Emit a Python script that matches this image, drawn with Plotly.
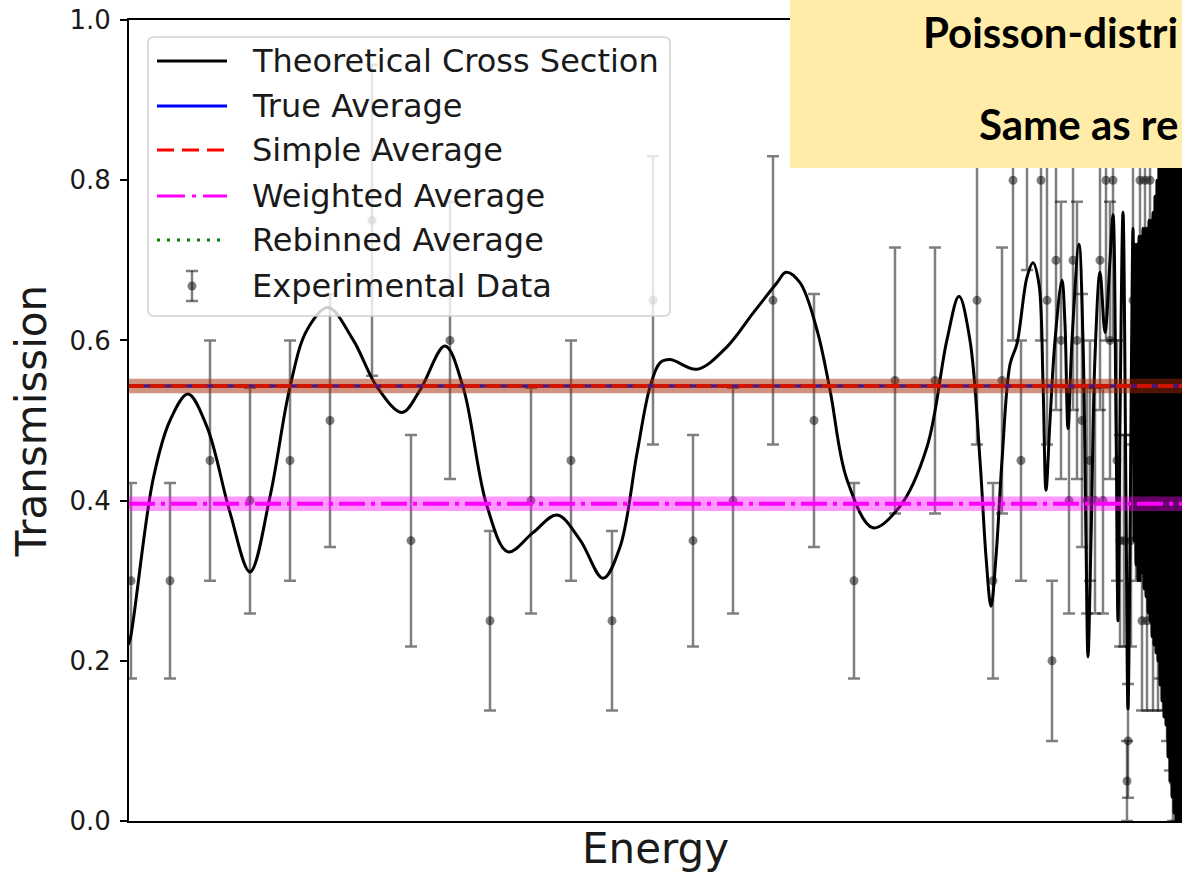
import plotly.graph_objects as go

# ---- experimental transmission (counts out of 20 trials) ----
energy_exp = [0.2, 4.1, 8.1, 12.1, 16.1, 20.1, 24.3, 28.2, 32.1, 36.1, 40.2,
              44.2, 48.3, 52.4, 56.4, 60.4, 64.4, 68.5, 72.5, 76.6, 80.6, 84.8,
              86.4, 87.3, 88.4, 89.2, 89.8, 91.2, 91.8, 92.3, 92.7, 93.2,
              94.0, 94.4, 94.8, 95.3, 95.8, 96.1, 96.6, 97.1, 97.4, 97.7,
              98.1, 98.4, 98.8, 99.1, 99.5, 99.8, 99.9, 100.2, 100.4, 100.7,
              101.1, 101.3, 101.6, 101.8, 102.1, 102.4, 102.6, 102.9, 103.1, 103.4,
              103.7, 103.8, 104.1, 104.4, 104.7, 105.1]
trans_exp = [0.30, 0.30, 0.45, 0.40, 0.45, 0.50, 0.75, 0.35, 0.60, 0.25, 0.40,
             0.45, 0.25, 0.65, 0.35, 0.40, 0.65, 0.50, 0.30, 0.55, 0.55, 0.65,
             0.30, 0.55, 0.80, 0.45, 0.90, 0.80, 0.65, 0.20, 0.70, 0.60,
             0.40, 0.70, 0.60, 0.50, 0.40, 0.45, 0.40, 0.70, 0.40, 0.80,
             0.60, 0.80, 0.45, 0.35, 0.35, 0.05, 0.10, 0.35, 0.65, 0.45,
             0.80, 0.25, 0.80, 0.25, 0.80, 0.25, 0.50, 0.25, 0.30, 0.25,
             0.45, 0.20, 0.15, 0.05, 0.05, 0.20]
sigma_exp = [0.122, 0.122, 0.150, 0.141, 0.150, 0.158, 0.194, 0.132, 0.173, 0.112, 0.141,
             0.150, 0.112, 0.180, 0.132, 0.141, 0.180, 0.158, 0.122, 0.166, 0.166, 0.180,
             0.122, 0.166, 0.200, 0.150, 0.212, 0.200, 0.180, 0.100, 0.187, 0.173,
             0.141, 0.187, 0.173, 0.158, 0.141, 0.150, 0.141, 0.187, 0.141, 0.200,
             0.173, 0.200, 0.150, 0.132, 0.132, 0.050, 0.071, 0.132, 0.180, 0.150,
             0.200, 0.112, 0.200, 0.112, 0.200, 0.112, 0.158, 0.112, 0.122, 0.112,
             0.150, 0.100, 0.087, 0.050, 0.050, 0.100]

# ---- theoretical cross-section transmission ----
energy_theory = [-0.1, 0.1, 2.4, 4.1, 5.9, 7.8, 10.1, 12.1, 14.1, 16.1, 17.8,
                 19.9, 22.4, 24.8, 27.3, 29.1, 31.6, 33.4, 35.8, 37.9, 40.4,
                 42.8, 45.1, 47.4, 49.1, 50.8, 52.1, 53.1, 54.1, 56.8, 59.8,
                 62.4, 64.8, 65.7, 67.1, 68.8, 70.1, 71.8, 74.4, 77.1, 79.8,
                 81.8, 83.0, 84.1, 85.1, 85.7, 86.2, 86.7, 87.3, 88.1, 88.8,
                 89.8, 90.4, 91.0, 91.4, 91.7, 92.1, 92.6, 93.3, 93.6, 93.9,
                 94.3, 95.0, 95.4, 95.7, 95.9, 96.2, 96.6, 97.1, 97.6, 98.1,
                 98.4, 98.7, 98.9, 99.1, 99.4, 99.7, 99.9,
                 100.4, 100.5, 100.6, 100.7, 100.8, 100.9, 101.0, 101.1, 101.2, 101.3,
                 101.4, 101.5, 101.6, 101.7, 101.8, 101.9, 102.0, 102.1, 102.2, 102.3,
                 102.4, 102.5, 102.6, 102.7, 102.8, 102.9, 103.0, 103.1, 103.2, 103.3,
                 103.4, 103.5, 103.6, 103.7, 103.8, 103.9, 104.0, 104.1, 104.2, 104.3,
                 104.4, 104.5, 104.6, 104.7, 104.8, 104.9, 105.0, 105.1, 105.2, 105.3,
                 105.4]
trans_theory = [0.220, 0.226, 0.426, 0.500, 0.533, 0.492, 0.385, 0.311, 0.405, 0.542, 0.613,
                0.641, 0.601, 0.542, 0.510, 0.538, 0.593, 0.542, 0.393, 0.336, 0.360,
                0.382, 0.351, 0.303, 0.342, 0.459, 0.542, 0.572, 0.576, 0.564, 0.592,
                0.634, 0.672, 0.685, 0.672, 0.613, 0.538, 0.426, 0.366, 0.393, 0.467,
                0.601, 0.655, 0.600, 0.450, 0.330, 0.268, 0.330, 0.450, 0.570, 0.596,
                0.679, 0.697, 0.670, 0.547, 0.413, 0.500, 0.600, 0.675, 0.620, 0.490,
                0.600, 0.720, 0.600, 0.350, 0.205, 0.350, 0.580, 0.685, 0.610, 0.700,
                0.757, 0.500, 0.250, 0.500, 0.760, 0.400, 0.140,
                0.740, 0.350, 0.720, 0.320, 0.720, 0.300, 0.730, 0.300, 0.730, 0.310,
                0.740, 0.290, 0.740, 0.280, 0.740, 0.260, 0.750, 0.250, 0.750, 0.230,
                0.760, 0.220, 0.780, 0.210, 0.800, 0.200, 0.840, 0.170, 0.860, 0.150,
                0.880, 0.130, 0.880, 0.120, 0.880, 0.080, 0.900, 0.050, 0.900, 0.030,
                0.900, 0.010, 0.900, 0.000, 0.900, 0.000, 0.900, 0.000, 0.900, 0.000,
                0.900]

# ---- averages and their uncertainty bands ----
energy_span = [0.0, 105.3]
true_avg = 0.543
simple_avg = 0.543
simple_band = [0.534, 0.552]
weighted_avg = 0.396
weighted_band = [0.387, 0.405]
rebinned_avg = 0.543

legend_labels = ["Theoretical Cross Section", "True Average", "Simple Average",
                 "Weighted Average", "Rebinned Average", "Experimental Data"]
note_lines = ["Poisson-distri", "Same as re"]

W, H = 1182, 876
M_L, M_R, M_T, M_B = 129, 0, 20, 55
PW, PH = W - M_L - M_R, H - M_T - M_B


def px(x):
    return (x - M_L) / PW


def py(y):
    return (H - M_B - y) / PH


fig = go.Figure()

# experimental points with Poisson error bars
fig.add_trace(go.Scatter(
    x=energy_exp, y=trans_exp, mode="markers",
    marker=dict(color="rgba(0,0,0,0.5)", size=9, line=dict(width=0)),
    error_y=dict(type="data", array=sigma_exp, color="rgba(0,0,0,0.5)",
                 thickness=2.5, width=6),
    showlegend=False))

# theoretical curve
fig.add_trace(go.Scatter(
    x=energy_theory, y=trans_theory, mode="lines",
    line=dict(color="black", width=3, shape="spline", smoothing=1.0),
    showlegend=False))

# average lines
fig.add_trace(go.Scatter(x=energy_span, y=[rebinned_avg] * 2, mode="lines",
                         line=dict(color="green", width=3, dash="3px,7px"),
                         showlegend=False))
fig.add_trace(go.Scatter(x=energy_span, y=[true_avg] * 2, mode="lines",
                         line=dict(color="blue", width=3.5), showlegend=False))
fig.add_trace(go.Scatter(x=energy_span, y=[simple_avg] * 2, mode="lines",
                         line=dict(color="red", width=4, dash="15px,6px"),
                         showlegend=False))
fig.add_trace(go.Scatter(x=energy_span, y=[weighted_avg] * 2, mode="lines",
                         line=dict(color="magenta", width=4, dash="26px,6px,4px,6px"),
                         showlegend=False))

# uncertainty bands drawn over the lines
for band, colour in ((simple_band, "rgba(160,40,0,0.5)"),
                     (weighted_band, "rgba(255,0,255,0.4)")):
    fig.add_trace(go.Scatter(
        x=[energy_span[0], energy_span[1], energy_span[1], energy_span[0]],
        y=[band[0], band[0], band[1], band[1]],
        mode="lines", fill="toself", fillcolor=colour,
        line=dict(width=0), hoverinfo="skip", showlegend=False))

shapes = []
annotations = []

# legend frame (rounded, semi-transparent)
lx0, lx1, ly0, ly1, r = 148, 670, 37, 316, 6
path = (f"M {px(lx0 + r)} {py(ly0)} L {px(lx1 - r)} {py(ly0)} "
        f"Q {px(lx1)} {py(ly0)} {px(lx1)} {py(ly0 + r)} "
        f"L {px(lx1)} {py(ly1 - r)} Q {px(lx1)} {py(ly1)} {px(lx1 - r)} {py(ly1)} "
        f"L {px(lx0 + r)} {py(ly1)} Q {px(lx0)} {py(ly1)} {px(lx0)} {py(ly1 - r)} "
        f"L {px(lx0)} {py(ly0 + r)} Q {px(lx0)} {py(ly0)} {px(lx0 + r)} {py(ly0)} Z")
shapes.append(dict(type="path", xref="paper", yref="paper", path=path,
                   fillcolor="rgba(255,255,255,0.8)",
                   line=dict(color="rgba(204,204,204,0.9)", width=1.5), layer="above"))

rows = [61, 106, 150, 196, 240, 286]
styles = [("black", "solid", 3), ("blue", "solid", 3), ("red", "17px,8px", 3),
          ("magenta", "28px,7px,4px,7px", 3), ("green", "3px,7px", 3)]
for yy, (col, dash, w) in zip(rows[:5], styles):
    shapes.append(dict(type="line", xref="paper", yref="paper",
                       x0=px(157), x1=px(227), y0=py(yy), y1=py(yy),
                       line=dict(color=col, width=w, dash=dash), layer="above"))
# error-bar marker sample
ey = rows[5]
shapes.append(dict(type="line", xref="paper", yref="paper", x0=px(192), x1=px(192),
                   y0=py(ey - 15), y1=py(ey + 15),
                   line=dict(color="rgba(0,0,0,0.5)", width=2.5), layer="above"))
for cy in (ey - 15, ey + 15):
    shapes.append(dict(type="line", xref="paper", yref="paper", x0=px(186), x1=px(198),
                       y0=py(cy), y1=py(cy),
                       line=dict(color="rgba(0,0,0,0.5)", width=2.5), layer="above"))
shapes.append(dict(type="circle", xref="paper", yref="paper",
                   x0=px(187.5), x1=px(196.5), y0=py(ey - 4.5), y1=py(ey + 4.5),
                   fillcolor="rgba(0,0,0,0.5)", line=dict(width=0), layer="above"))

for yy, label in zip(rows, legend_labels):
    annotations.append(dict(xref="paper", yref="paper", x=px(250), y=py(yy),
                            xanchor="left", yanchor="middle", text=label, showarrow=False,
                            font=dict(family="DejaVu Sans", size=32, color="#1a1a1a")))

# highlighted note box
shapes.append(dict(type="rect", xref="paper", yref="paper",
                   x0=px(790), x1=px(1200), y0=py(168), y1=py(-5),
                   fillcolor="#FFECA8", line=dict(width=0), layer="above"))
annotations.append(dict(xref="paper", yref="paper", x=px(1180), y=py(32),
                        xanchor="right", yanchor="middle", text=f"<b>{note_lines[0]}</b>",
                        showarrow=False, font=dict(family="Lato", size=42, color="black")))
annotations.append(dict(xref="paper", yref="paper", x=px(1180), y=py(124),
                        xanchor="right", yanchor="middle", text=f"<b>{note_lines[1]}</b>",
                        showarrow=False, font=dict(family="Lato", size=42, color="black")))

fig.update_layout(
    width=W, height=H,
    margin=dict(l=M_L, r=M_R, t=M_T, b=M_B, pad=0),
    paper_bgcolor="white", plot_bgcolor="white",
    showlegend=False,
    shapes=shapes, annotations=annotations,
    xaxis=dict(range=energy_span, showgrid=False, zeroline=False,
               showticklabels=False, ticks="", showline=True, linecolor="black",
               linewidth=2, mirror=True, automargin=False,
               title=dict(text="Energy", standoff=12,
                          font=dict(family="DejaVu Sans", size=42, color="#1a1a1a"))),
    yaxis=dict(range=[0, 1], showgrid=False, zeroline=False,
               tickvals=[0, 0.2, 0.4, 0.6, 0.8, 1.0], tickformat=".1f",
               ticks="outside", ticklen=7, tickwidth=2, tickcolor="black",
               ticklabelstandoff=4,
               tickfont=dict(family="DejaVu Sans", size=26, color="#1a1a1a"),
               showline=True, linecolor="black", linewidth=2, mirror=False,
               automargin=False,
               title=dict(text="Transmission", standoff=10,
                          font=dict(family="DejaVu Sans", size=42, color="#1a1a1a"))),
)

fig.write_html("out.html", config={"displayModeBar": False})
